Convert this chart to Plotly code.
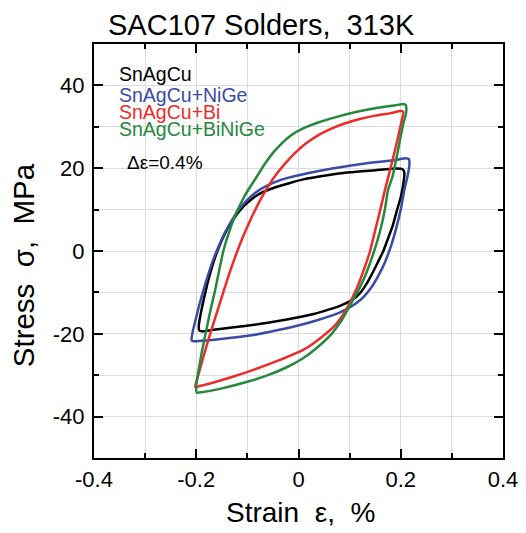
import plotly.graph_objects as go

# Data (strain %, stress MPa), traced around each hysteresis loop from the lower-left corner
sac_strain = [-0.194, -0.195, -0.191, -0.185, -0.178, -0.17, -0.161, -0.15, -0.138, -0.124, -0.108, -0.09,
              -0.07, -0.045, -0.015, 0.009, 0.05, 0.1, 0.15, 0.19, 0.203, 0.207, 0.206, 0.2, 0.193, 0.184,
              0.175, 0.166, 0.156, 0.146, 0.135, 0.124, 0.112, 0.098, 0.08, 0.06, 0.03, 0.0, -0.04, -0.08,
              -0.13, -0.17, -0.189, -0.194]
sac_stress = [-19.2, -18.0, -15.0, -11.5, -7.8, -4.2, -0.8, 2.6, 5.6, 8.3, 10.7, 12.7,
              14.2, 15.4, 16.5, 17.3, 18.2, 19.0, 19.5, 19.9, 19.8, 19.0, 17.0, 13.0, 10.0, 6.0,
              3.0, 0.0, -2.5, -5.0, -7.5, -9.6, -11.2, -12.3, -13.3, -14.1, -15.2, -16.0, -16.9, -17.7,
              -18.5, -19.1, -19.4, -19.2]

nige_strain = [-0.209, -0.207, -0.201, -0.194, -0.186, -0.177, -0.167, -0.156, -0.144, -0.131, -0.117, -0.101,
               -0.085, -0.069, -0.045, -0.023, 0.042, 0.1, 0.14, 0.19, 0.21, 0.216, 0.217, 0.214, 0.207,
               0.2, 0.19, 0.179, 0.168, 0.156, 0.143, 0.128, 0.112, 0.095, 0.078, 0.06, 0.035, 0.009,
               -0.04, -0.088, -0.14, -0.18, -0.2, -0.209]
nige_stress = [-21.6, -19.5, -16.5, -13.0, -9.5, -5.8, -2.2, 1.2, 4.4, 7.3, 9.9, 12.2,
               14.0, 15.3, 16.7, 17.6, 19.4, 20.6, 21.3, 22.0, 22.4, 22.2, 21.0, 18.5, 14.7,
               10.0, 5.0, 0.5, -3.0, -6.0, -8.7, -11.0, -12.7, -14.0, -15.0, -15.8, -16.8, -17.7,
               -19.1, -20.3, -21.1, -21.6, -21.8, -21.6]

bi_strain = [-0.202, -0.196, -0.186, -0.174, -0.16, -0.146, -0.134, -0.122, -0.108, -0.093, -0.077, -0.06,
             -0.043, -0.025, -0.005, 0.015, 0.035, 0.06, 0.09, 0.12, 0.15, 0.18, 0.2, 0.205, 0.201,
             0.19, 0.18, 0.169, 0.16, 0.15, 0.14, 0.127, 0.113, 0.1, 0.087, 0.072, 0.04, 0.009, -0.04,
             -0.088, -0.14, -0.186, -0.202]
bi_stress = [-32.8, -30.0, -25.5, -20.5, -15.0, -9.5, -5.0, -0.8, 3.6, 7.8, 11.8, 15.5,
             18.6, 21.3, 23.9, 26.0, 27.7, 29.3, 30.8, 31.9, 32.7, 33.3, 33.8, 33.6, 31.0,
             25.0, 20.0, 14.7, 10.0, 5.0, 0.0, -4.8, -9.3, -12.6, -15.4, -17.9, -21.3, -23.9, -26.5,
             -28.7, -30.8, -32.4, -32.8]

binige_strain = [-0.199, -0.2, -0.197, -0.19, -0.181, -0.172, -0.163, -0.155, -0.147, -0.136, -0.124, -0.114,
                 -0.105, -0.095, -0.085, -0.066, -0.05, -0.036, -0.015, 0.009, 0.04, 0.075, 0.11, 0.15,
                 0.19, 0.206, 0.21, 0.211, 0.209, 0.205, 0.198, 0.192, 0.184, 0.175, 0.169, 0.16, 0.148,
                 0.133, 0.12, 0.108, 0.097, 0.085, 0.062, 0.035, 0.009, -0.025, -0.06, -0.1, -0.154, -0.19,
                 -0.199]
binige_stress = [-34.2, -32.5, -30.0, -25.0, -19.5, -14.2, -9.4, -4.6, 0.0, 4.5, 8.5, 11.2,
                 13.4, 15.4, 17.3, 21.0, 23.7, 25.6, 27.9, 29.6, 31.1, 32.4, 33.5, 34.5,
                 35.2, 35.5, 35.2, 34.0, 32.5, 30.8, 26.5, 22.7, 18.0, 14.7, 10.0, 5.0, 0.0,
                 -5.2, -8.8, -11.5, -14.0, -16.6, -20.4, -23.5, -25.9, -28.2, -30.0, -31.6, -33.3, -34.1,
                 -34.2]

series = [
    ("SnAgCu", sac_strain, sac_stress, "#000000"),
    ("SnAgCu+NiGe", nige_strain, nige_stress, "#3A4BA6"),
    ("SnAgCu+Bi", bi_strain, bi_stress, "#EE2B2B"),
    ("SnAgCu+BiNiGe", binige_strain, binige_stress, "#24893C"),
]

x_ticks = [-0.4, -0.2, 0, 0.2, 0.4]
x_labels = ["-0.4", "-0.2", "0", "0.2", "0.4"]
y_ticks = [-40, -20, 0, 20, 40]
y_labels = ["-40", "-20", "0", "20", "40"]

title_text = "SAC107 Solders,\u00a0\u00a0313K"
x_title = "Strain\u00a0\u00a0ε,\u00a0\u00a0%"
y_title = "Stress\u00a0\u00a0σ,\u00a0\u00a0MPa"
delta_text = "Δε=0.4%"

FONT = "Liberation Sans, Arial, sans-serif"

fig = go.Figure()
for name, xs, ys, col in series:
    fig.add_trace(go.Scatter(x=xs, y=ys, mode="lines", name=name,
                             line=dict(color=col, width=2.5, shape="spline", smoothing=0.5)))

grid = "#DCDCDC"
axis_common = dict(showline=True, linecolor="black", linewidth=2, mirror="ticks",
                   ticks="inside", ticklen=9, tickwidth=2, tickcolor="black",
                   showgrid=True, gridcolor=grid, gridwidth=1, zeroline=False, automargin=False,
                   tickfont=dict(family=FONT, size=22, color="black"))

fig.update_xaxes(range=[-0.4, 0.4], tickvals=x_ticks, ticktext=x_labels,
                 minor=dict(dtick=0.1, ticks="inside", ticklen=5, tickwidth=1.5, tickcolor="black",
                            showgrid=True, gridcolor=grid, gridwidth=1),
                 ticklabelstandoff=1, **axis_common)
fig.update_yaxes(range=[-50, 50], tickvals=y_ticks, ticktext=y_labels,
                 minor=dict(dtick=10, ticks="inside", ticklen=5, tickwidth=1.5, tickcolor="black",
                            showgrid=True, gridcolor=grid, gridwidth=1),
                 ticklabelstandoff=3, **axis_common)

legend_y = [42.7, 37.8, 33.5, 29.4]
for (name, xs, ys, col), yy in zip(series, legend_y):
    fig.add_annotation(x=-0.355, y=yy, xref="x", yref="y", text=name, showarrow=False,
                       xanchor="left", yanchor="middle",
                       font=dict(family=FONT, size=19.5, color=col))
fig.add_annotation(x=-0.339, y=21.4, xref="x", yref="y", text=delta_text, showarrow=False,
                   xanchor="left", yanchor="middle", font=dict(family=FONT, size=19, color="black"))

# Titles
fig.add_annotation(x=0.4095, y=1.047, xref="paper", yref="paper", text=title_text, showarrow=False,
                   xanchor="center", yanchor="middle", font=dict(family=FONT, size=29, color="black"))
fig.add_annotation(x=0.506, y=-0.1327, xref="paper", yref="paper", text=x_title, showarrow=False,
                   xanchor="center", yanchor="middle", font=dict(family=FONT, size=28, color="black"))
fig.add_annotation(x=-0.1736, y=0.4656, xref="paper", yref="paper", text=y_title, showarrow=False,
                   textangle=-90, xanchor="center", yanchor="middle",
                   font=dict(family=FONT, size=29.5, color="black"))

# The page places the figure 8 px in from the top-left corner, so the figure is sized to fill the rest
fig.update_layout(
    width=518, height=525,
    margin=dict(l=86, r=22.5, t=35.5, b=75),
    paper_bgcolor="white", plot_bgcolor="white",
    showlegend=False,
)

fig.write_html("out.html")
